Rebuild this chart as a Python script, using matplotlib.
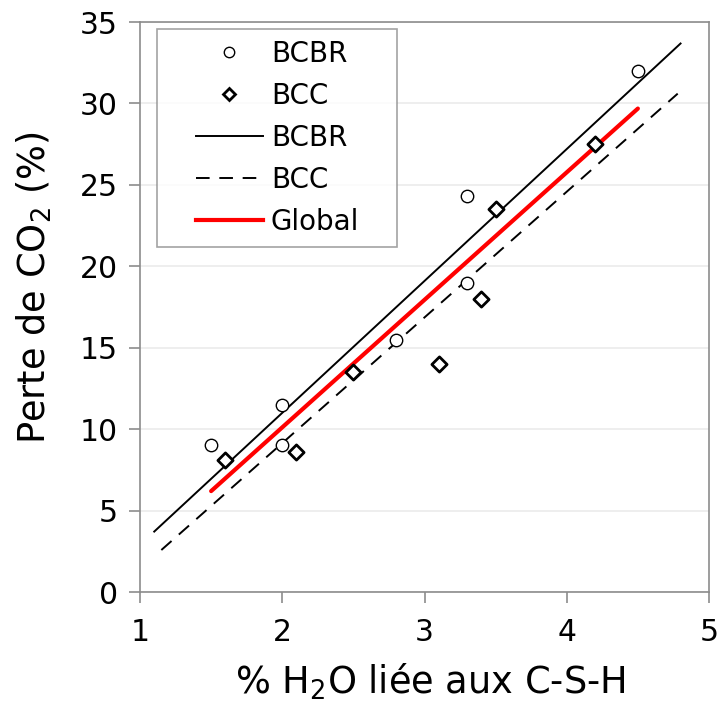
import numpy as np
import matplotlib
matplotlib.use("Agg")
import matplotlib.pyplot as plt
from matplotlib.lines import Line2D
from matplotlib.legend_handler import HandlerLine2D

# Data
bcbr_x = [1.5, 2.0, 2.0, 2.8, 3.3, 3.3, 4.5]
bcbr_y = [9.0, 11.5, 9.0, 15.5, 24.3, 19.0, 32.0]
bcc_x = [1.6, 2.1, 2.5, 3.1, 3.4, 3.5, 4.2]
bcc_y = [8.1, 8.6, 13.5, 14.0, 18.0, 23.5, 27.5]

# Regression lines: (slope, intercept, x range)
fit_bcbr = (8.1, -5.2, [1.1, 4.8])
fit_bcc = (7.72, -6.3, [1.15, 4.78])
fit_global = (7.83, -5.55, [1.5, 4.5])

xticks = [1, 2, 3, 4, 5]
yticks = [0, 5, 10, 15, 20, 25, 30, 35]

plt.rcParams['font.family'] = ['DejaVu Sans']
fig = plt.figure(figsize=(7.18, 7.04), dpi=100)
ax = fig.add_axes([140/718, 1 - 592/704, (709-140)/718, (592-22)/704])

grey = '#8c8c8c'
ax.set_xlim(1, 5)
ax.set_ylim(0, 35)
ax.set_xticks(xticks)
ax.set_yticks(yticks)
ax.grid(axis='y', color='#ebebeb', linewidth=1.2)
ax.set_axisbelow(True)
for s in ax.spines.values():
    s.set_color(grey)
    s.set_linewidth(1.2)
ax.tick_params(axis='both', colors=grey, labelcolor='black', length=8, width=1.2,
               labelsize=21.5, direction='out')
ax.tick_params(axis='x', pad=11)
ax.tick_params(axis='y', pad=8)

def fitline(fit):
    m, b, xr = fit
    xs = np.array(xr)
    return xs, m * xs + b

ax.scatter(bcbr_x, bcbr_y, marker='o', s=80, facecolors='white', edgecolors='black',
           linewidths=1.0, zorder=4)
ax.scatter(bcc_x, bcc_y, marker='D', s=60, facecolors='white', edgecolors='black',
           linewidths=2.0, zorder=4)
xs, ys = fitline(fit_bcbr)
ax.plot(xs, ys, color='black', lw=1.4, zorder=3)
xs, ys = fitline(fit_bcc)
ax.plot(xs, ys, color='black', lw=1.4, ls=(0, (7, 5)), zorder=3)
xs, ys = fitline(fit_global)
ax.plot(xs, ys, color='#ff0000', lw=3.0, zorder=3, solid_capstyle='round')

handles = [
    Line2D([], [], marker='o', ls='none', markersize=7.5, markerfacecolor='white',
           markeredgecolor='black', markeredgewidth=1.0),
    Line2D([], [], marker='D', ls='none', markersize=6.5, markerfacecolor='white',
           markeredgecolor='black', markeredgewidth=2.0),
    Line2D([], [], color='black', lw=1.4),
    Line2D([], [], color='black', lw=1.4, ls=(0, (7, 5))),
    Line2D([], [], color='#ff0000', lw=3.0),
]
labels = ['BCBR', 'BCC', 'BCBR', 'BCC', 'Global']
x0 = 17/569
top = (592-29)/570
bot = (592-241)/570
leg = ax.legend(handles, labels, loc='upper left',
                bbox_to_anchor=(x0, bot, 240/569, top - bot), mode='expand',
                fontsize=20, frameon=True, fancybox=False, borderpad=0.4,
                handlelength=3.4, handletextpad=0.3, labelspacing=0.5,
                borderaxespad=0,
                handler_map={Line2D: HandlerLine2D(xpad=1.0)})
leg.get_frame().set_edgecolor(grey)
leg.get_frame().set_linewidth(1.2)

ax.set_xlabel('% H$_2$O liée aux C-S-H', fontsize=26.5)
ax.set_ylabel('Perte de CO$_2$ (%)', fontsize=26.5)
ax.xaxis.set_label_coords((430-140)/569, (592-662)/570)
ax.yaxis.set_label_coords((54-140)/569, (592-288)/570)

fig.savefig('out.png', dpi=100)
